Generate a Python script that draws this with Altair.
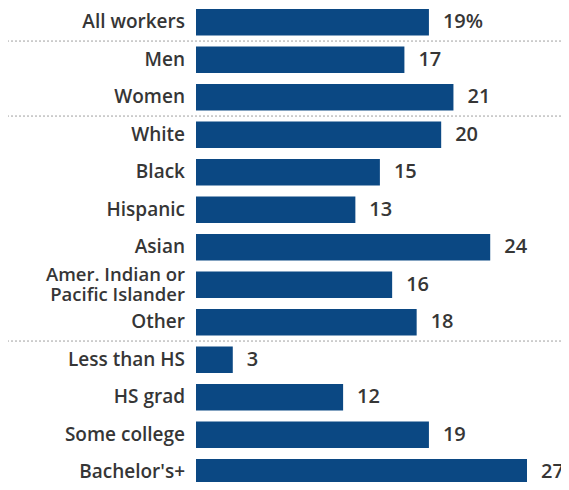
import altair as alt
import pandas as pd

categories = ["All workers", "Men", "Women", "White", "Black", "Hispanic", "Asian",
              "Amer. Indian or\nPacific Islander", "Other", "Less than HS", "HS grad",
              "Some college", "Bachelor's+"]
values = [19, 17, 21, 20, 15, 13, 24, 16, 18, 3, 12, 19, 27]
value_labels = ["19%", "17", "21", "20", "15", "13", "24", "16", "18", "3", "12", "19", "27"]
separators_before = ["Men", "White", "Less than HS"]

df = pd.DataFrame({
    "cat": categories,
    "val": values,
    "lab": value_labels,
    "idx": list(range(len(categories))),
    "multi": ["\n" in c for c in categories],
    "sep": [c in separators_before for c in categories],
})

FONT = "Open Sans"
TXT = "#363636"
BLUE = "#0b4883"

PAD_IN = 0.29
N = len(categories)
Y_RANGE = [0, 476.6]
yscale = alt.Scale(domain=categories, range=Y_RANGE, paddingInner=PAD_IN, paddingOuter=0)
# linear scale aligned with the band scale: separators sit midway in the gap above a row
sepscale = alt.Scale(domain=[PAD_IN / 2, N - PAD_IN + PAD_IN / 2], range=Y_RANGE,
                     zero=False, nice=False)
xscale = alt.Scale(domain=[0, 27], range=[188, 519])

base = alt.Chart(df)

bars = base.mark_bar(color=BLUE).encode(
    y=alt.Y("cat:N", scale=yscale, axis=None),
    x=alt.X("val:Q", scale=xscale, axis=None),
)

vals = base.mark_text(align="left", baseline="middle", dx=14, font=FONT,
                      fontSize=20, fontWeight=600, color=TXT).encode(
    y=alt.Y("cat:N", scale=yscale),
    x=alt.X("val:Q", scale=xscale),
    text="lab:N",
)

cats_single = base.transform_filter("!datum.multi").mark_text(
    align="right", baseline="middle", font=FONT, fontSize=19,
    fontWeight=600, color=TXT).encode(
    y=alt.Y("cat:N", scale=yscale),
    x=alt.value(177),
    text="cat:N",
)

cats_multi = base.transform_filter("datum.multi").mark_text(
    align="right", baseline="middle", font=FONT, fontSize=18.5, dy=-9.75,
    fontWeight=600, color=TXT, lineBreak="\n", lineHeight=19.5).encode(
    y=alt.Y("cat:N", scale=yscale),
    x=alt.value(177),
    text="cat:N",
)

content = alt.layer(bars, vals, cats_single, cats_multi)

rules = base.transform_filter("datum.sep").mark_rule(
    color="#a0a0a0", strokeDash=[2, 2], strokeWidth=1).encode(
    y=alt.Y("idx:Q", scale=sepscale, axis=None),
)

chart = alt.layer(rules, content).resolve_scale(y="independent").properties(
    width=553, height=473,
    padding={"left": 0, "top": 1, "right": 0, "bottom": 0},
    autosize=alt.AutoSizeParams(type="none"),
).configure_view(stroke=None)

chart.save("out.html", embed_options={"renderer": "svg", "actions": False})
